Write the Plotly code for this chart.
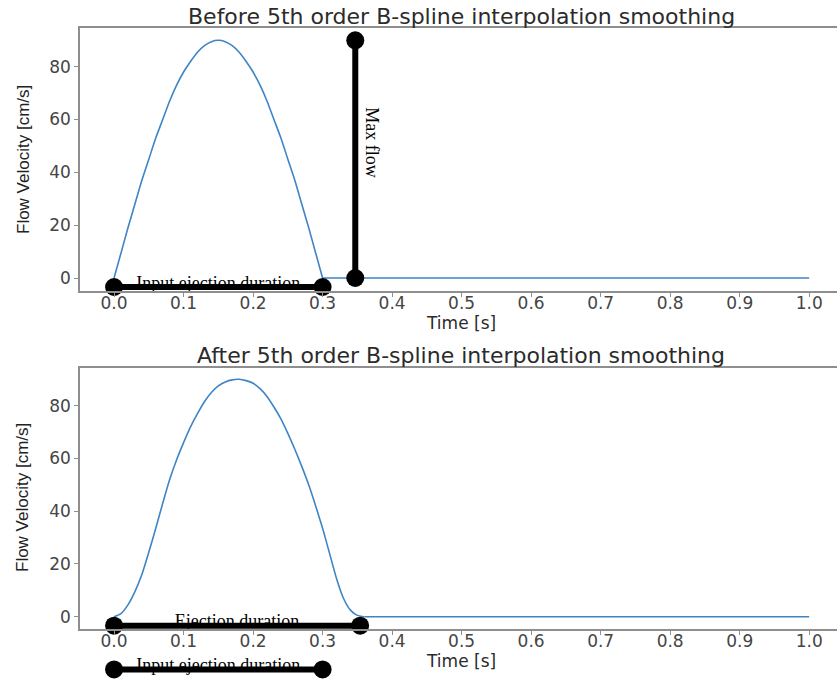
import plotly.graph_objects as go

# ---- data -------------------------------------------------------------
# Raw input flow profile (before smoothing), time in s, velocity in cm/s
t_before = [0.00, 0.01, 0.02, 0.03, 0.04, 0.05, 0.06, 0.07, 0.08, 0.09, 0.10,
            0.11, 0.12, 0.13, 0.14, 0.15, 0.16, 0.17, 0.18, 0.19, 0.20,
            0.21, 0.22, 0.23, 0.24, 0.25, 0.26, 0.27, 0.28, 0.29, 0.30]
v_before = [0, 9.5, 19, 28, 37, 45, 53, 60, 67, 73, 78,
            82, 85.5, 88, 89.5, 90, 89.5, 88, 85.5, 82, 78,
            73, 67, 60, 53, 45, 37, 28, 19, 9.5, 0]
t_before_rest = [0.30, 0.40, 0.50, 0.60, 0.70, 0.80, 0.90, 1.00]
v_before_rest = [0, 0, 0, 0, 0, 0, 0, 0]

# Flow profile after 5th order B-spline smoothing
t_after = [0.00, 0.01, 0.02, 0.03, 0.04, 0.05, 0.06, 0.07, 0.08, 0.09, 0.10,
           0.11, 0.12, 0.13, 0.14, 0.15, 0.16, 0.17, 0.18, 0.19, 0.20,
           0.21, 0.22, 0.23, 0.24, 0.25, 0.26, 0.27, 0.28, 0.29, 0.30,
           0.31, 0.32, 0.33, 0.34, 0.35, 0.36]
v_after = [0, 1.2, 4.5, 9.5, 16, 24.5, 33.5, 43, 52, 59.5, 66,
           72, 77, 81.5, 85, 87.5, 89, 89.8, 90, 89.5, 88.5,
           86.5, 83.5, 79.5, 75, 69.5, 63.5, 57, 50, 42, 33.5,
           24, 14.5, 7, 2.5, 0.5, 0]
t_after_rest = [0.36, 0.40, 0.50, 0.60, 0.70, 0.80, 0.90, 1.00]
v_after_rest = [0, 0, 0, 0, 0, 0, 0, 0]

# Annotation markers
input_ejection_t = [0.0, 0.30]      # input ejection duration (s)
ejection_t = [0.0, 0.354]           # smoothed ejection duration (s)
max_flow_t = 0.347                  # where the max-flow bar is drawn
max_flow_v = [0, 90]                # cm/s
bar_level = -3.4                    # level of the duration bars (cm/s)
input_bar_level_below = -20         # level of the input bar under lower plot

x_ticks = [0.0, 0.1, 0.2, 0.3, 0.4, 0.5, 0.6, 0.7, 0.8, 0.9, 1.0]
x_tick_labels = ["0.0", "0.1", "0.2", "0.3", "0.4", "0.5", "0.6", "0.7", "0.8", "0.9", "1.0"]
y_ticks = [0, 20, 40, 60, 80]
y_tick_labels = ["0", "20", "40", "60", "80"]

titles = ["Before 5th order B-spline interpolation smoothing",
          "After 5th order B-spline interpolation smoothing"]

# ---- layout helpers ---------------------------------------------------
W, H = 837, 679


def fx(px):
    return px / W


def fy(py):
    return 1 - py / H


BLUE = "#3d85c6"
AXIS_GREY = "#8e8e8e"
TICK_FONT = dict(family="DejaVu Sans", size=17, color="#454545")
SERIF = dict(family="Liberation Serif, Times New Roman, serif", size=18, color="black")
BAR = dict(color="black", width=6)
DOT = dict(color="black", size=18)
CURVE = dict(color=BLUE, width=1.6, shape="spline", smoothing=0.6)
FLAT = dict(color=BLUE, width=1.6)

fig = go.Figure()


def add(trace_kwargs, xa, ya):
    fig.add_trace(go.Scatter(**trace_kwargs, xaxis=xa, yaxis=ya,
                             showlegend=False, hoverinfo="skip"))


# ---- top panel ----
add(dict(x=t_before, y=v_before, mode="lines", line=CURVE), "x", "y")
add(dict(x=t_before_rest, y=v_before_rest, mode="lines", line=FLAT), "x", "y")
add(dict(x=[sum(input_ejection_t) / 2], y=[bar_level + 0.9], mode="text",
         text=["Input ejection duration"], textfont=SERIF, cliponaxis=False), "x", "y")
add(dict(x=input_ejection_t, y=[bar_level, bar_level], mode="lines+markers",
         line=BAR, marker=DOT, cliponaxis=False), "x", "y")
add(dict(x=[max_flow_t, max_flow_t], y=max_flow_v, mode="lines+markers",
         line=BAR, marker=DOT, cliponaxis=False), "x", "y")

# ---- bottom panel ----
add(dict(x=t_after, y=v_after, mode="lines", line=CURVE), "x2", "y2")
add(dict(x=t_after_rest, y=v_after_rest, mode="lines", line=FLAT), "x2", "y2")
add(dict(x=[sum(ejection_t) / 2], y=[bar_level + 1.2], mode="text",
         text=["Ejection duration"], textfont=SERIF, cliponaxis=False), "x2", "y2")
add(dict(x=ejection_t, y=[bar_level, bar_level], mode="lines+markers",
         line=BAR, marker=DOT, cliponaxis=False), "x2", "y2")

# input duration bar below the lower panel (hidden overlay axes, same scale)
add(dict(x=[sum(input_ejection_t) / 2], y=[input_bar_level_below + 1.2], mode="text",
         text=["Input ejection duration"], textfont=SERIF, cliponaxis=False), "x3", "y3")
add(dict(x=input_ejection_t, y=[input_bar_level_below] * 2, mode="lines+markers",
         line=BAR, marker=DOT, cliponaxis=False), "x3", "y3")

x_range = [-0.049, 1.040]
x_dom = [fx(80), 1.0]

# major ticks are hidden so labels sit close to the spine; the short outside
# tick marks are drawn as minor ticks at the same positions
xcommon = dict(range=x_range, domain=x_dom, tickmode="array", tickvals=x_ticks,
               ticktext=x_tick_labels, ticks="", showline=True, linecolor=AXIS_GREY,
               linewidth=1.5, mirror=True, showgrid=False, zeroline=False,
               tickfont=TICK_FONT, fixedrange=True, ticklabelstandoff=-4,
               minor=dict(tickmode="array", tickvals=x_ticks, ticks="outside",
                          ticklen=4, tickwidth=1, tickcolor=AXIS_GREY, showgrid=False))
ycommon = dict(tickmode="array", tickvals=y_ticks, ticktext=y_tick_labels,
               ticks="outside", ticklen=4, tickwidth=1, tickcolor=AXIS_GREY,
               showline=True, linecolor=AXIS_GREY, linewidth=1.5, showgrid=False,
               zeroline=False, tickfont=TICK_FONT, fixedrange=True)

fig.update_layout(
    width=W, height=H,
    margin=dict(l=0, r=0, t=0, b=0),
    paper_bgcolor="white", plot_bgcolor="rgba(0,0,0,0)",
    xaxis=dict(**xcommon, anchor="y"),
    yaxis=dict(**ycommon, anchor="x", domain=[fy(291), fy(28)], range=[-4.92, 94.66]),
    xaxis2=dict(**xcommon, anchor="y2"),
    yaxis2=dict(**ycommon, anchor="x2", domain=[fy(629.3), fy(368.3)], range=[-4.78, 94.18]),
    xaxis3=dict(range=x_range, domain=x_dom, visible=False, anchor="y3", fixedrange=True),
    yaxis3=dict(range=[-23.62, -4.78], domain=[0, fy(629.3)], visible=False,
                anchor="x3", fixedrange=True),
)

title_font = dict(family="DejaVu Sans", size=22, color="#2b2b2b")
label_font = dict(family="DejaVu Sans", size=17, color="#2b2b2b")
ylab_font = dict(family="Liberation Sans Narrow, Liberation Sans, sans-serif", size=17, color="#222222")

annotations = [
    dict(text=titles[0], x=fx(461), y=fy(16), font=title_font),
    dict(text=titles[1], x=fx(461), y=fy(355), font=title_font),
    dict(text="Time [s]", x=fx(461), y=fy(322.5), font=label_font),
    dict(text="Time [s]", x=fx(461), y=fy(661), font=label_font),
    dict(text="Flow Velocity [cm/s]", x=fx(23), y=fy(160), font=ylab_font, textangle=-90),
    dict(text="Flow Velocity [cm/s]", x=fx(23), y=fy(498), font=ylab_font, textangle=-90),
]
for a in annotations:
    a.update(xref="paper", yref="paper", showarrow=False, xanchor="center", yanchor="middle")

# rotated "Max flow" label next to the vertical bar
annotations.append(dict(text="Max flow", x=0.371, y=51, xref="x", yref="y",
                        showarrow=False, textangle=90, font=SERIF,
                        xanchor="center", yanchor="middle"))
fig.update_layout(annotations=annotations)

fig.write_html("out.html")
